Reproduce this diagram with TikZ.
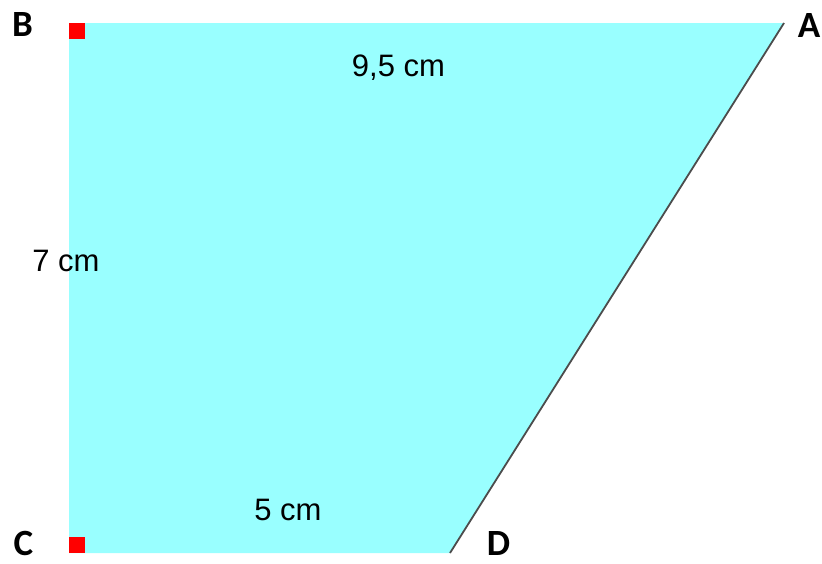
\documentclass[tikz,border=0pt]{standalone}
\usepackage{fontspec}
\setmainfont{Liberation Sans}
\newfontfamily\labfont{Carlito}
\definecolor{trapfill}{HTML}{99FFFF}
\definecolor{marker}{HTML}{FF0000}
\begin{document}
\begin{tikzpicture}[x=1pt,y=-1pt,
  vlabel/.style={anchor=base,inner sep=0pt,font=\labfont\bfseries\fontsize{37}{37}\selectfont},
  dimlabel/.style={anchor=base,inner sep=0pt,font=\fontsize{31}{31}\selectfont},
  rightmark/.style={fill=marker,draw=none}]
\useasboundingbox (0,0) rectangle (822,563);
\coordinate (B) at (69,23);
\coordinate (A) at (784,23);
\coordinate (D) at (450,553);
\coordinate (C) at (69,553);
\fill[trapfill] (B) -- (A) -- (D) -- (C) -- cycle;
\draw[line width=1.8pt,gray!60!black] (A) -- (D);
\fill[rightmark] (B) rectangle ++(16,16);
\fill[rightmark] (C) rectangle ++(16,-16);
\node[vlabel] (lB) at (22.5,36) {B};
\node[vlabel] (lA) at (809,37) {A};
\node[vlabel] (lC) at (23.5,555) {C};
\node[vlabel] (lD) at (498.5,555) {D};
\node[dimlabel] (dBA) at (398.5,76) {9,5 cm};
\node[dimlabel] (dBC) at (66,271) {7 cm};
\node[dimlabel] (dCD) at (288,520) {5 cm};
\end{tikzpicture}
\end{document}
